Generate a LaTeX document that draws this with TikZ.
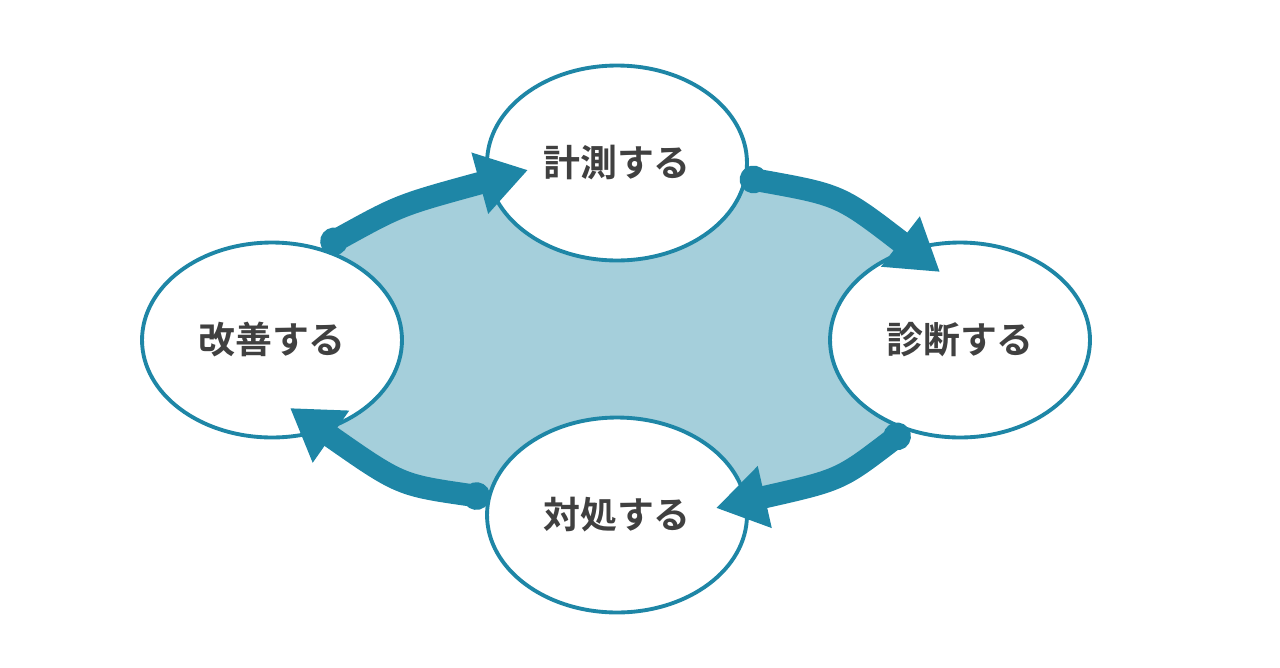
\documentclass[tikz,border=0pt]{standalone}
\usepackage{fontspec}
\newfontfamily\cjk{Noto Sans CJK JP Bold}
\usetikzlibrary{arrows.meta,shapes.geometric}
\definecolor{teal}{HTML}{1E86A6}
\definecolor{fillb}{HTML}{A5CFDB}
\definecolor{txt}{HTML}{404040}
\begin{document}
\begin{tikzpicture}[x=0.02cm,y=-0.02cm,
  ell/.style={draw=teal,line width=2.2pt,fill=white,ellipse,minimum width=5.2cm,minimum height=3.9cm,inner sep=0pt,font=\cjk\fontsize{21}{24}\selectfont,text=txt},
  arr/.style={draw=teal,line width=0.45cm,{Circle[length=0.55cm,width=0.55cm]}-{Triangle[length=1.0cm,width=1.2cm]}}]
\useasboundingbox (0,0) rectangle (1280,667);
\fill[fillb] (322,248) .. controls (400,205) .. (500,180) -- (740,177) .. controls (840,195) .. (915,262) -- (908,428) .. controls (840,480) .. (740,502) -- (490,498) .. controls (400,485) .. (310,415) -- cycle;
\node[ell] (t) at (617,163) {計測する};
\node[ell] (r) at (960,340) {診断する};
\node[ell] (b) at (617,515) {対処する};
\node[ell] (l) at (272,340) {改善する};
\coordinate (a1) at (322,248); \coordinate (a1e) at (528,170);
\coordinate (a2) at (740,177); \coordinate (a2e) at (940,272);
\coordinate (a3) at (908,428); \coordinate (a3e) at (716,508);
\coordinate (a4) at (490,498); \coordinate (a4e) at (290,408);
\draw[arr] (a1) .. controls (400,205) .. (a1e);
\draw[arr] (a2) .. controls (840,195) .. (a2e);
\draw[arr] (a3) .. controls (840,480) .. (a3e);
\draw[arr] (a4) .. controls (400,485) .. (a4e);
\end{tikzpicture}
\end{document}
